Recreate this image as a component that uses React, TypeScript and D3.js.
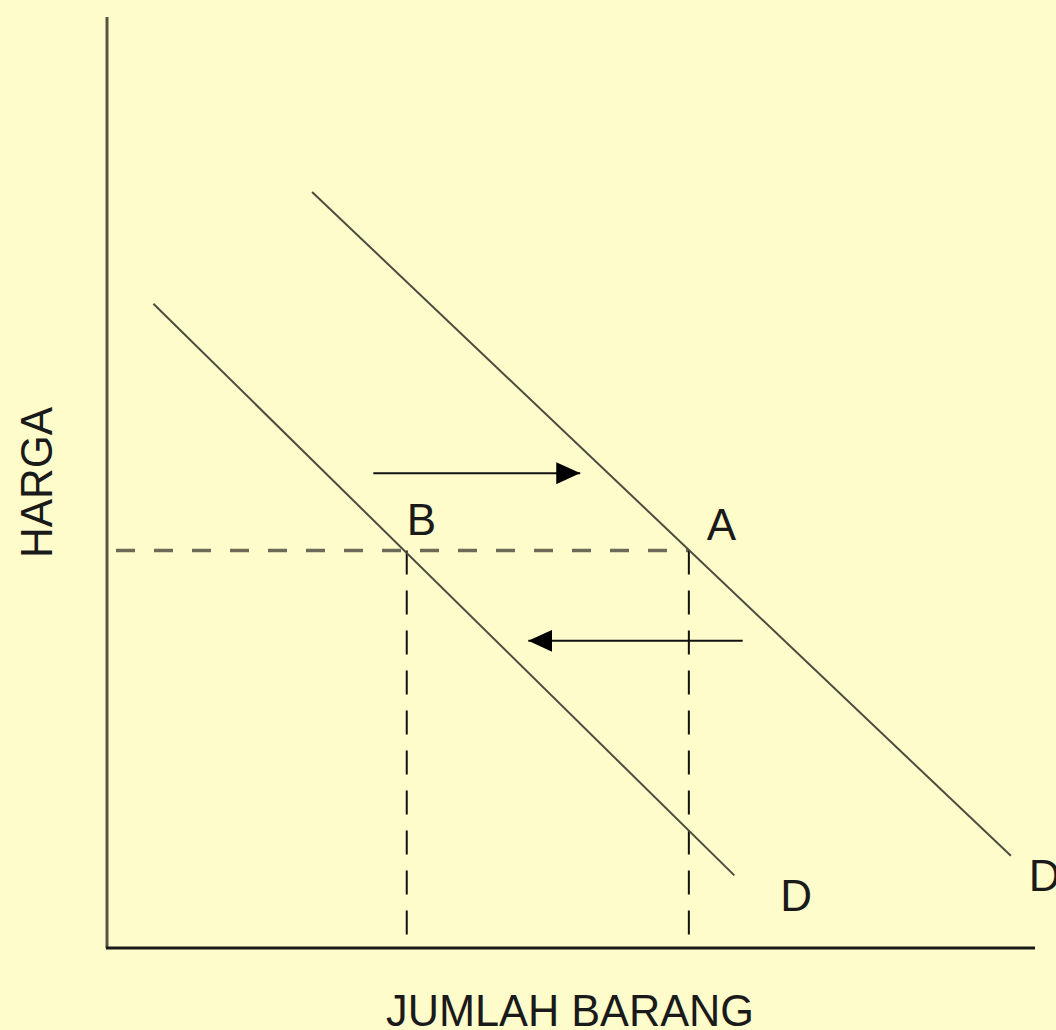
import React, { useEffect, useRef } from "react";
import * as d3 from "d3";

// demand curves, as [quantity, price] end points
const demandCurves = [
  { name: "D1", points: [[2.21, 8.12], [9.74, 0.99]] },
  { name: "D0", points: [[0.5, 6.92], [6.76, 0.78]] },
];
// equilibrium points at the same price
const pointNames = ["B", "A"];
const pointQty = [3.23, 6.27];
const pointPrice = 4.27;
// shift arrows: from quantity -> to quantity at a price
const arrows = [
  { from: 2.87, to: 5.1, price: 5.1 },
  { from: 6.85, to: 4.54, price: 3.3 },
];
const xTitle = "JUMLAH BARANG";
const yTitle = "HARGA";

const width = 1056;
const height = 1030;
const bg = "#fffccb";
const font = "'Liberation Sans', Arial, sans-serif";

export default function App() {
  const ref = useRef<SVGSVGElement>(null);

  useEffect(() => {
    const svg = d3.select(ref.current);
    svg.selectAll("*").remove();

    const x = d3.scaleLinear().domain([0, 10]).range([107, 1035]);
    const y = d3.scaleLinear().domain([0, 10]).range([948, 17]);

    svg.append("rect").attr("width", width).attr("height", height).attr("fill", bg);

    svg
      .append("defs")
      .append("marker")
      .attr("id", "head")
      .attr("viewBox", "0 0 24 22")
      .attr("refX", 24)
      .attr("refY", 11)
      .attr("markerWidth", 24)
      .attr("markerHeight", 22)
      .attr("markerUnits", "userSpaceOnUse")
      .attr("orient", "auto")
      .append("path")
      .attr("d", "M0,0 L24,11 L0,22 Z")
      .attr("fill", "#000");

    // guide lines
    const g = svg.append("g");
    g.append("line")
      .attr("x1", x(0) + 9)
      .attr("x2", x(pointQty[1]))
      .attr("y1", y(pointPrice))
      .attr("y2", y(pointPrice))
      .attr("stroke", "#6b6b58")
      .attr("stroke-width", 3.5)
      .attr("stroke-dasharray", "19 19");

    pointQty.forEach((q) => {
      g.append("line")
        .attr("x1", x(q))
        .attr("x2", x(q))
        .attr("y1", y(pointPrice))
        .attr("y2", y(0))
        .attr("stroke", "#111")
        .attr("stroke-width", 2)
        .attr("stroke-dasharray", "24 16");
    });

    // demand curves
    const line = d3
      .line<number[]>()
      .x((d) => x(d[0]))
      .y((d) => y(d[1]));
    g.selectAll(".curve")
      .data(demandCurves)
      .enter()
      .append("path")
      .attr("class", "curve")
      .attr("d", (d) => line(d.points))
      .attr("fill", "none")
      .attr("stroke", "#4c4c40")
      .attr("stroke-width", 2);

    // arrows
    arrows.forEach((a) => {
      g.append("line")
        .attr("x1", x(a.from))
        .attr("x2", x(a.to))
        .attr("y1", y(a.price))
        .attr("y2", y(a.price))
        .attr("stroke", "#111")
        .attr("stroke-width", 2)
        .attr("marker-end", "url(#head)");
    });

    // axes
    g.append("line")
      .attr("x1", x(0))
      .attr("x2", x(0))
      .attr("y1", y(10))
      .attr("y2", y(0))
      .attr("stroke", "#555545")
      .attr("stroke-width", 3);
    g.append("line")
      .attr("x1", x(0) - 1)
      .attr("x2", x(10))
      .attr("y1", y(0))
      .attr("y2", y(0))
      .attr("stroke", "#1a1a14")
      .attr("stroke-width", 3);

    const txt = (s: string, px: number, py: number) =>
      g
        .append("text")
        .attr("x", px)
        .attr("y", py)
        .attr("font-family", font)
        .attr("font-size", 44)
        .attr("fill", "#1a1a1a")
        .text(s);

    // point labels
    txt(pointNames[0], x(pointQty[0]), y(pointPrice) - 15);
    txt(pointNames[1], x(pointQty[1]) + 18, y(pointPrice) - 10);

    // curve labels
    const d1End = demandCurves[0].points[1];
    const d0End = demandCurves[1].points[1];
    txt("D", x(d1End[0]) + 18, y(d1End[1]) + 35);
    txt("D", x(d0End[0]) + 46, y(d0End[1]) + 36);

    // axis titles
    txt(xTitle, 386, 1026)
      .attr("textLength", 368)
      .attr("lengthAdjust", "spacingAndGlyphs");
    txt(yTitle, 0, 0)
      .attr("transform", "translate(52,558) rotate(-90)")
      .attr("textLength", 151)
      .attr("lengthAdjust", "spacingAndGlyphs");
  }, []);

  return (
    <svg
      ref={ref}
      width={width}
      height={height}
      style={{ position: "absolute", left: 0, top: 0, display: "block" }}
    />
  );
}
